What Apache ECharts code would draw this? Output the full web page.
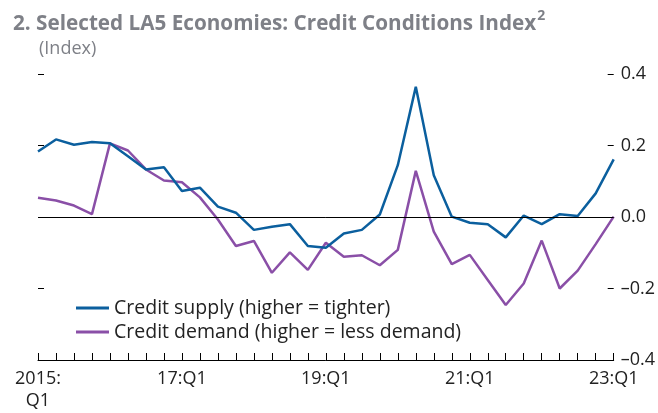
<!DOCTYPE html>
<html><head><meta charset="utf-8">
<script src="https://cdn.jsdelivr.net/npm/echarts@6/dist/echarts.min.js"></script>
<style>html,body{margin:0;padding:0;background:#fff}#c{width:658px;height:413px}</style>
</head><body><div id="c"></div>
<script>
const quarters = ["2015Q1","2015Q2","2015Q3","2015Q4","2016Q1","2016Q2","2016Q3","2016Q4",
  "2017Q1","2017Q2","2017Q3","2017Q4","2018Q1","2018Q2","2018Q3","2018Q4",
  "2019Q1","2019Q2","2019Q3","2019Q4","2020Q1","2020Q2","2020Q3","2020Q4",
  "2021Q1","2021Q2","2021Q3","2021Q4","2022Q1","2022Q2","2022Q3","2022Q4","2023Q1"];
const tickLabels = {"2015Q1":"2015:\nQ1","2017Q1":"17:Q1","2019Q1":"19:Q1","2021Q1":"21:Q1","2023Q1":"23:Q1"};
const creditSupply = [0.183,0.217,0.202,0.210,0.206,0.170,0.133,0.139,0.073,0.082,0.029,0.012,
  -0.036,-0.027,-0.020,-0.081,-0.086,-0.046,-0.036,0.007,0.145,0.364,0.117,0.001,
  -0.016,-0.020,-0.057,0.004,-0.020,0.008,0.003,0.066,0.161];
const creditDemand = [0.054,0.046,0.032,0.008,0.206,0.186,0.133,0.102,0.097,0.055,-0.007,-0.081,
  -0.067,-0.156,-0.099,-0.148,-0.072,-0.111,-0.107,-0.135,-0.092,0.129,-0.041,-0.132,
  -0.106,-0.176,-0.246,-0.186,-0.066,-0.200,-0.150,-0.076,0.001];
const yTicks = [-0.4,-0.2,0,0.2,0.4];

const FONT = "Open Sans";
const GREY = '#7e8087';
const chart = echarts.init(document.getElementById('c'), null, {renderer:'canvas'});
chart.setOption({
  animation:false,
  backgroundColor:'#fff',
  title:[{
    text:'{t|2. Selected LA5 Economies: Credit Conditions Index}{s|2}',
    left:8, top:4,
    textStyle:{rich:{
      t:{fontFamily:FONT,fontWeight:'bold',fontSize:20.7,color:GREY,verticalAlign:'bottom',lineHeight:26},
      s:{fontFamily:FONT,fontWeight:'bold',fontSize:14,color:GREY,verticalAlign:'top',lineHeight:26,padding:[0,0,10,1]}
    }}
  },{
    text:'(Index)', left:34, top:35,
    textStyle:{fontFamily:FONT,fontWeight:'normal',fontSize:18,color:GREY}
  }],
  legend:{
    orient:'vertical', left:71, top:293, itemGap:4,
    itemWidth:33, itemHeight:3, icon:'rect',
    textStyle:{fontFamily:FONT,fontSize:19.5,color:'#222',padding:[0,0,0,0]},
    data:['Credit supply (higher = tighter)','Credit demand (higher = less demand)']
  },
  grid:{left:38,right:44,top:74,bottom:53},
  xAxis:{
    type:'category', data:quarters, boundaryGap:false,
    axisLine:{show:true,onZero:false,lineStyle:{color:'#000',width:1}},
    axisTick:{show:true,inside:true,length:7,interval:0,lineStyle:{color:'#000'}},
    axisLabel:{interval:0,margin:8,fontFamily:FONT,fontSize:18,color:'#222',lineHeight:22,
      formatter:v=>tickLabels[v]||''},
    splitLine:{show:false}
  },
  yAxis:[
    {type:'value',min:-0.4,max:0.4,interval:0.2,position:'left',
     axisLine:{show:false},axisTick:{show:true,inside:true,length:6,lineStyle:{color:'#000'}},
     axisLabel:{show:false},splitLine:{show:false}},
    {type:'value',min:-0.4,max:0.4,interval:0.2,position:'right',
     axisLine:{show:false},axisTick:{show:true,inside:true,length:6,lineStyle:{color:'#000'}},
     axisLabel:{show:true,margin:7,fontFamily:FONT,fontSize:18,color:'#222',
       formatter:v=>{const t=yTicks.find(x=>Math.abs(x-v)<1e-9); const s=(t===undefined?v:t).toFixed(1); return s.replace('-','–');}},
     splitLine:{show:false}}
  ],
  series:[
    {name:'Credit supply (higher = tighter)',type:'line',data:creditSupply,yAxisIndex:0,
     showSymbol:false,symbol:'none',lineStyle:{color:'#0b5f9e',width:2.5},itemStyle:{color:'#0b5f9e'},z:3,
     markLine:{silent:true,symbol:'none',label:{show:false},lineStyle:{color:'#000',width:1,type:'solid'},data:[{yAxis:0}]}},
    {name:'Credit demand (higher = less demand)',type:'line',data:creditDemand,yAxisIndex:0,
     showSymbol:false,symbol:'none',lineStyle:{color:'#8a4fa7',width:2.5},itemStyle:{color:'#8a4fa7'},z:2}
  ]
});
</script></body></html>
